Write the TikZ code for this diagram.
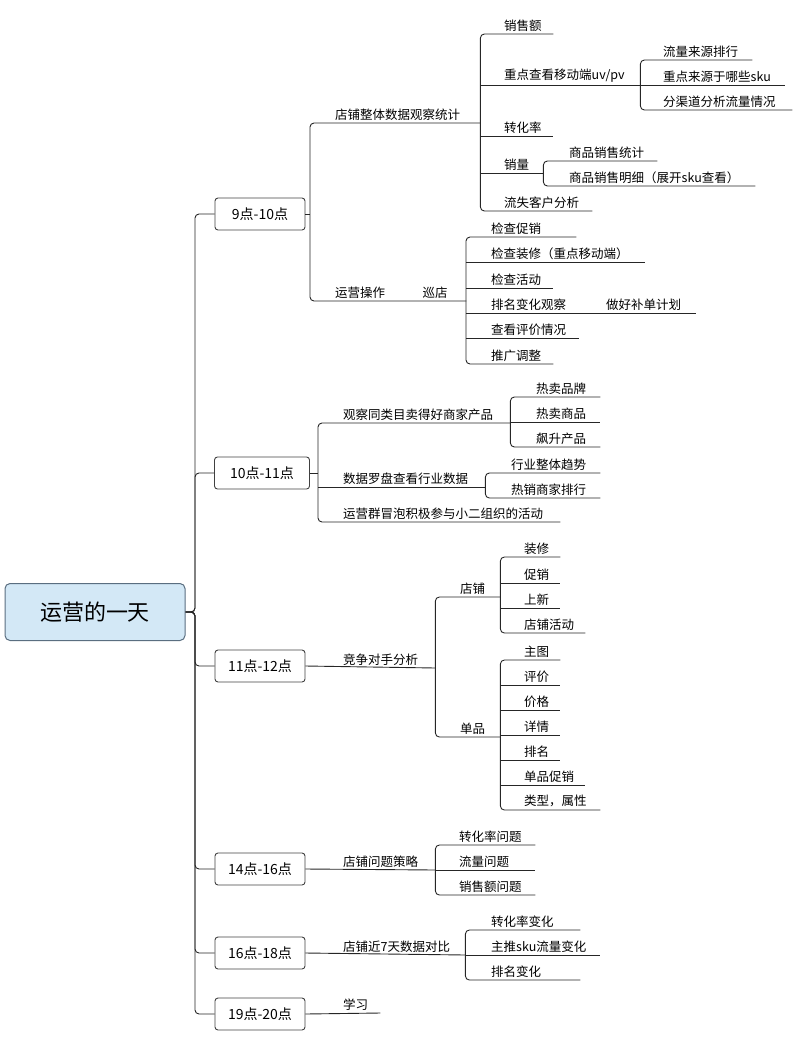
\documentclass[tikz,border=0pt]{standalone}
\usepackage{fontspec}
\setmainfont{Noto Sans CJK SC}
\usetikzlibrary{positioning}
\definecolor{rootfill}{HTML}{D3E8F6}
\definecolor{rootline}{HTML}{5A6E80}
\tikzset{
  conn/.style={draw=black!85, line width=0.9pt, rounded corners=4pt},
  item/.style={anchor=south west, inner xsep=0pt, inner ysep=2.5pt, align=left,
    font=\fontsize{12.5}{15}\selectfont, text width=#1},
  timebox/.style={draw=black!75, line width=0.9pt, rounded corners=3pt, minimum height=32pt,
    minimum width=#1, font=\fontsize{14}{16}\selectfont},
  rootbox/.style={draw=rootline, fill=rootfill, line width=1pt, rounded corners=5pt,
    minimum width=180pt, minimum height=57pt, font=\fontsize{22}{24}\selectfont}
}
\begin{document}
\begin{tikzpicture}[x=1pt, y=-1pt]
	\useasboundingbox (0,0) rectangle (800,1053);
	\node[rootbox] (root) at (95,612) {运营的一天};
	\coordinate (hub) at (195,612);
	% time boxes
	\node[timebox=90pt] (t9) at (260,214) {9点-10点};
	\node[timebox=95pt] (t10) at (262,473) {10点-11点};
	\node[timebox=90pt] (t11) at (260,666) {11点-12点};
	\node[timebox=90pt] (t14) at (260,869) {14点-16点};
	\node[timebox=90pt] (t16) at (260,953) {16点-18点};
	\node[timebox=90pt] (t19) at (260,1014) {19点-20点};
	\foreach \t in {t9,t10,t11,t14,t16,t19}
		\draw[conn] (root.east) -- (hub) |- (\t.west);

	% 9点-10点
	\node[item=145pt] (a1) at (335,123) {店铺整体数据观察统计};
	\node[item=131pt] (a2) at (335,301) {运营操作\hspace{3em}巡店};
	\coordinate (va) at (310,214);
	\draw[conn] (t9.east) -- (va);
	\draw[conn] (a1.south east) -| (va) |- (a2.south east);
		\node[item=49pt] (a11) at (504,34) {销售额};
		\node[item=136pt] (a12) at (504,85) {重点查看移动端uv/pv};
		\node[item=49pt] (a13) at (504,136) {转化率};
		\node[item=39pt] (a14) at (504,173) {销量};
		\node[item=88pt] (a15) at (504,211) {流失客户分析};
		\coordinate (va1) at (a1.south east);
		\draw[conn] (a11.south east) -| (va1) |- (a15.south east);
		\foreach \n in {a12,a13,a14} \draw[conn] (va1 |- \n.south) -- (\n.south east);
			\node[item=89pt] (a121) at (663,60) {流量来源排行};
			\node[item=122pt] (a122) at (663,85) {重点来源于哪些sku};
			\node[item=129pt] (a123) at (663,110) {分渠道分析流量情况};
			\coordinate (va12) at (a12.south east);
			\draw[conn] (a121.south east) -| (va12) |- (a123.south east);
			\draw[conn] (va12) -- (a122.south east);
			\node[item=88pt] (a141) at (569,161) {商品销售统计};
			\node[item=186pt] (a142) at (569,186) {商品销售明细（展开sku查看）};
			\coordinate (va14) at (a14.south east);
			\draw[conn] (a141.south east) -| (va14) |- (a142.south east);
		\node[item=85pt] (a21) at (491,237) {检查促销};
		\node[item=154pt] (a22) at (491,262) {检查装修（重点移动端）};
		\node[item=62pt] (a23) at (491,288) {检查活动};
		\node[item=205pt] (a24) at (491,313) {排名变化观察\hspace{3.2em}做好补单计划};
		\node[item=88pt] (a25) at (491,338) {查看评价情况};
		\node[item=62pt] (a26) at (491,364) {推广调整};
		\coordinate (va2) at (466,237);
		\draw[conn] (a21.south east) -- (va2) |- (a26.south east);
		\foreach \n in {a22,a23,a24,a25} \draw[conn] (va2 |- \n.south) -- (\n.south east);

	% 10点-11点
	\node[item=167pt] (b1) at (343,423) {观察同类目卖得好商家产品};
	\node[item=142pt] (b2) at (343,487) {数据罗盘查看行业数据};
	\node[item=217pt] (b3) at (343,522) {运营群冒泡积极参与小二组织的活动};
	\coordinate (vb) at (318,473);
	\draw[conn] (t10.east) -- (vb);
	\draw[conn] (b1.south east) -| (vb) |- (b3.south east);
	\draw[conn] (vb |- b2.south) -- (b2.south east);
		\node[item=64pt] (b11) at (536,397) {热卖品牌};
		\node[item=64pt] (b12) at (536,422) {热卖商品};
		\node[item=64pt] (b13) at (536,447) {飙升产品};
		\coordinate (vb1) at (b1.south east);
		\draw[conn] (b11.south east) -| (vb1) |- (b13.south east);
		\draw[conn] (vb1 |- b12.south) -- (b12.south east);
		\node[item=89pt] (b21) at (511,473) {行业整体趋势};
		\node[item=89pt] (b22) at (511,498) {热销商家排行};
		\coordinate (vb2) at (b2.south east);
		\draw[conn] (b21.south east) -| (vb2) |- (b22.south east);

	% 11点-12点
	\node[item=92pt] (c1) at (343,668) {竞争对手分析};
	\draw[conn] (t11.east) -- (c1.south east);
		\node[item=40pt] (c11) at (460,597) {店铺};
		\node[item=40pt] (c12) at (460,737) {单品};
		\coordinate (vc) at (c1.south east);
		\draw[conn] (c11.south east) -| (vc) |- (c12.south east);
			\node[item=36pt] (c111) at (524,557) {装修};
			\node[item=36pt] (c112) at (524,583) {促销};
			\node[item=36pt] (c113) at (524,608) {上新};
			\node[item=61pt] (c114) at (524,633) {店铺活动};
			\coordinate (vc1) at (c11.south east);
			\draw[conn] (c111.south east) -| (vc1) |- (c114.south east);
			\foreach \n in {c112,c113} \draw[conn] (vc1 |- \n.south) -- (\n.south east);
			\node[item=36pt] (c121) at (524,660) {主图};
			\node[item=36pt] (c122) at (524,685) {评价};
			\node[item=36pt] (c123) at (524,710) {价格};
			\node[item=36pt] (c124) at (524,735) {详情};
			\node[item=36pt] (c125) at (524,760) {排名};
			\node[item=61pt] (c126) at (524,785) {单品促销};
			\node[item=76pt] (c127) at (524,810) {类型，属性};
			\coordinate (vc2) at (c12.south east);
			\draw[conn] (c121.south east) -| (vc2) |- (c127.south east);
			\foreach \n in {c122,c123,c124,c125,c126} \draw[conn] (vc2 |- \n.south) -- (\n.south east);

	% 14点-16点
	\node[item=92pt] (d1) at (343,870) {店铺问题策略};
	\draw[conn] (t14.east) -- (d1.south east);
		\node[item=76pt] (d11) at (459,845) {转化率问题};
		\node[item=76pt] (d12) at (459,870) {流量问题};
		\node[item=76pt] (d13) at (459,895) {销售额问题};
		\coordinate (vd) at (d1.south east);
		\draw[conn] (d11.south east) -| (vd) |- (d13.south east);
		\draw[conn] (vd) -- (d12.south east);

	% 16点-18点
	\node[item=122pt] (e1) at (343,955) {店铺近7天数据对比};
	\draw[conn] (t16.east) -- (e1.south east);
		\node[item=89pt] (e11) at (491,930) {转化率变化};
		\node[item=109pt] (e12) at (491,955) {主推sku流量变化};
		\node[item=89pt] (e13) at (491,980) {排名变化};
		\coordinate (ve) at (e1.south east);
		\draw[conn] (e11.south east) -| (ve) |- (e13.south east);
		\draw[conn] (ve) -- (e12.south east);

	% 19点-20点
	\node[item=37pt] (f1) at (343,1013) {学习};
	\draw[conn] (t19.east) -- (f1.south east);
\end{tikzpicture}
\end{document}
